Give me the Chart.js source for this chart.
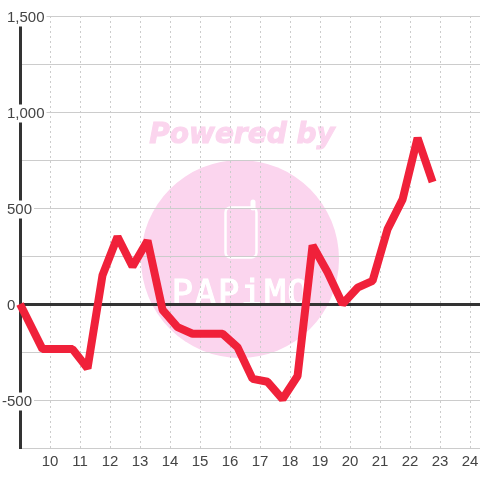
<!DOCTYPE html>
<html>
<head>
<meta charset="utf-8">
<style>
  html, body { margin: 0; padding: 0; background: #fff; }
  #wrap { width: 480px; height: 480px; }
</style>
<script src="https://cdn.jsdelivr.net/npm/chart.js@4"></script>
</head>
<body>
<div id="wrap"><canvas id="chart" width="480" height="480"></canvas></div>
<script>
// hour of day for each reading
const hours = [9, 9.75, 10.25, 10.75, 11.25, 11.75, 12.25, 12.75, 13.25, 13.75, 14.25, 14.75, 15.25, 15.75, 16.25, 16.75, 17.25, 17.75, 18.25, 18.75, 19.25, 19.75, 20.25, 20.75, 21.25, 21.75, 22.25, 22.75];
const values = [0, -235, -235, -235, -335, 150, 350, 195, 330, -30, -120, -155, -155, -155, -225, -390, -405, -495, -375, 305, 165, 0, 85, 120, 390, 545, 865, 635];
const xTickMin = 9;
const xTickMax = 24.33;
const yTicks = { min: -750, max: 1500, step: 250, labelStep: 500 };

const gray = "#cccccc";
const dark = "#333333";
const textColor = "#444444";

const points = hours.map((h, i) => ({ x: h, y: values[i] }));

// logo sits under the grid
const watermark = {
  id: "watermark",
  beforeDraw(chart) {
    const c = chart.ctx;
    c.save();
    c.fillStyle = "#fbd5ee";
    c.strokeStyle = "#fbd5ee";
    c.beginPath();
    c.arc(240, 259, 99, 0, Math.PI * 2);
    c.fill();
    c.font = "italic bold 28px 'DejaVu Sans'";
    c.textAlign = "center";
    c.textBaseline = "middle";
    c.lineWidth = 1;
    c.fillText("Powered by", 242, 136);
    c.strokeText("Powered by", 242, 136);
    c.strokeStyle = "#ffffff";
    c.lineWidth = 2.5;
    c.beginPath();
    c.roundRect(225.5, 207.5, 31, 50, 5);
    c.stroke();
    c.lineWidth = 5;
    c.lineCap = "round";
    c.beginPath();
    c.moveTo(253, 208);
    c.lineTo(253, 202);
    c.stroke();
    c.fillStyle = "#ffffff";
    c.font = "36px 'DejaVu Sans Mono'";
    c.letterSpacing = "1.5px";
    c.textBaseline = "alphabetic";
    c.lineWidth = 1;
    c.lineCap = "butt";
    c.fillText("PAPiMO", 241, 305);
    c.strokeText("PAPiMO", 241, 305);
    c.restore();
  }
};

// y labels sit a bit low, negative ones hang their minus sign to the left
const nudgeLabels = {
  id: "nudgeLabels",
  beforeDraw(chart) {
    chart.scales.y.getLabelItems().forEach(item => {
      if (item.nudged) return;
      item.nudged = true;
      const dx = String(item.label).charAt(0) === "-" ? -5 : 0;
      item.options.translation[0] += dx;
      item.options.translation[1] += 1.5;
      if (item.backdrop) item.backdrop.left += dx;
    });
  }
};

new Chart(document.getElementById("chart"), {
  type: "line",
  data: {
    datasets: [
      {
        data: points,
        borderColor: "#f0213a",
        borderWidth: 8,
        borderJoinStyle: "bevel",
        pointRadius: 0,
        tension: 0,
        clip: false,
      },
    ],
  },
  options: {
    responsive: false,
    animation: false,
    layout: { autoPadding: false, padding: { top: 16, right: 0, bottom: 0, left: 0 } },
    plugins: { legend: { display: false }, tooltip: { enabled: false } },
    scales: {
      x: {
        type: "linear",
        min: xTickMin,
        max: xTickMax,
        border: { display: false, dash: [2, 3] },
        afterFit(axis) {
          axis.height = 32;
          axis.paddingLeft = 0;
          axis.paddingRight = 0;
        },
        grid: {
          color: gray,
          lineWidth: 1,
          drawTicks: false,
        },
        ticks: {
          stepSize: 1,
          includeBounds: false,
          autoSkip: false,
          maxRotation: 0,
          padding: 5,
          color: textColor,
          font: { family: "'Liberation Sans'", size: 15 },
          callback: v => (v === xTickMin ? "" : String(v)),
        },
      },
      y: {
        min: yTicks.min,
        max: yTicks.max,
        border: { display: true, color: dark, width: 3 },
        afterFit(axis) { axis.width = 20; },
        grid: {
          drawTicks: false,
          color: ctx => (ctx.tick && ctx.tick.value === 0 ? dark : gray),
          lineWidth: ctx => (ctx.tick && ctx.tick.value === 0 ? 3 : 1),
        },
        ticks: {
          stepSize: yTicks.step,
          mirror: true,
          padding: -13,
          color: textColor,
          font: { family: "'Liberation Sans'", size: 15 },
          showLabelBackdrop: ctx => ctx.tick.value % yTicks.labelStep === 0,
          backdropColor: "#ffffff",
          backdropPadding: { left: 0, right: 2, top: 0, bottom: 0 },
          callback: v => (v % yTicks.labelStep === 0 ? v.toLocaleString("en-US") : ""),
        },
      },
    },
  },
  plugins: [watermark, nudgeLabels],
});
</script>
</body>
</html>
